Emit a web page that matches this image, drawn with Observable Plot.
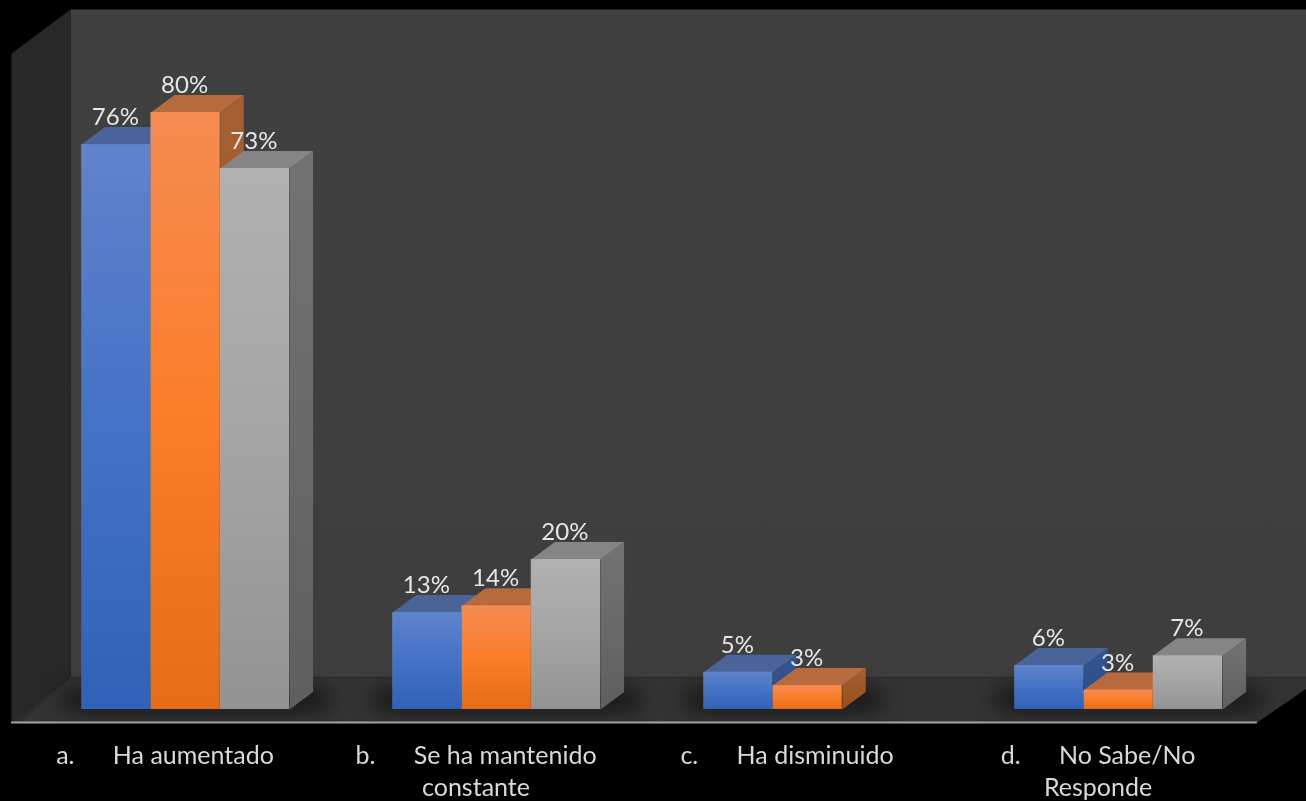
<!DOCTYPE html>
<html lang="es">
<head>
<meta charset="utf-8">
<style>
html,body{margin:0;padding:0;background:#000;overflow:hidden}
svg{display:block;filter:blur(0.55px)}
</style>
<script src="https://cdn.jsdelivr.net/npm/d3@7"></script>
<script src="https://cdn.jsdelivr.net/npm/@observablehq/plot@0.6"></script>
</head>
<body>
<script>
const categories = [
  "a.\u00A0\u00A0\u00A0\u00A0\u00A0\u00A0Ha aumentado",
  "b.\u00A0\u00A0\u00A0\u00A0\u00A0\u00A0Se ha mantenido\nconstante",
  "c.\u00A0\u00A0\u00A0\u00A0\u00A0\u00A0Ha disminuido",
  "d.\u00A0\u00A0\u00A0\u00A0\u00A0\u00A0No Sabe/No\nResponde"
];
const seriesBlue   = [75.7, 13.0, 5.0, 5.9];
const seriesOrange = [80.0, 13.9, 3.2, 2.6];
const seriesGray   = [72.5, 20.1, null, 7.2];

const palette = [
  {front:"url(#fBlue)",   top:"#4a6399", side:"url(#sBlue)"},
  {front:"url(#fOrange)", top:"#b76a3e", side:"url(#sOrange)"},
  {front:"url(#fGray)",   top:"#858585", side:"url(#sGray)"}
];

// geometry in data units: one category = 1 on x, one percentage point = 1 on y
const barW = 0.2228, depthX = 0.0756, depthY = 2.35, nudge = 0.002;
const wallL = -0.368, roomL = -0.558, roomR = 3.448, roomFar = 3.62;
const floorBack = 4.29, floorFront = -1.74, roomTop = 93.8, leftTop = 87.9;

const bars = [seriesBlue, seriesOrange, seriesGray].flatMap((vals, s) =>
  vals.map((v, c) => ({c, s, v, x1: c + nudge + (s - 1.5) * barW, x2: c + nudge + (s - 0.5) * barW}))
).filter(d => d.v != null).sort((a, b) => a.c - b.c || a.s - b.s);

const poly = (pts, fill, extra = {}) =>
  Plot.line(pts, {x: d => d[0], y: d => d[1], fill, stroke: "none", curve: "linear", ...extra});

const backdrop = [
  poly([[wallL, floorBack], [wallL, roomTop], [roomFar, roomTop], [roomFar, floorBack]], "url(#wall)"),
  poly([[roomL, floorFront], [roomL, leftTop], [wallL, roomTop], [wallL, floorBack]], "#282828"),
  poly([[roomL, floorFront], [wallL, floorBack], [roomFar, floorBack], [roomFar, 3.2], [roomR, floorFront]], "#333333"),
  poly([[roomL, floorFront], [wallL, floorBack], [wallL - 0.02, floorBack - 0.8], [roomL + 0.03, floorFront]], "#2c2c2c")
];

const shadows = [0, 1, 2, 3].map(c => {
  const n = c === 2 ? 2 : 3;
  return Plot.rect([c], {
    x1: d => d - 1.5 * barW - 0.06,
    x2: d => d + (n - 1.5) * barW + 0.13,
    y1: 0.1, y2: 2.5, rx: 12,
    fill: "#000", fillOpacity: 0.72, imageFilter: "blur(11px)"
  });
});

const barMarks = bars.flatMap(d => {
  const p = palette[d.s];
  return [
    poly([[d.x2, 0], [d.x2, d.v], [d.x2 + depthX, d.v + depthY], [d.x2 + depthX, depthY]], p.side),
    poly([[d.x1, d.v], [d.x2, d.v], [d.x2 + depthX, d.v + depthY], [d.x1 + depthX, d.v + depthY]], p.top),
    Plot.rect([d], {x1: "x1", x2: "x2", y1: 0, y2: "v", fill: p.front})
  ];
});

const defs = () => {
  const grad = (id, stops) =>
    `<linearGradient id="${id}" x1="0" y1="0" x2="0" y2="1">` +
    stops.map(([o, c]) => `<stop offset="${o}" stop-color="${c}"/>`).join("") +
    `</linearGradient>`;
  const g = document.createElementNS("http://www.w3.org/2000/svg", "g");
  g.innerHTML = "<defs>" +
    grad("wall",    [[0, "#404040"], [1, "#3e3e3e"]]) +
    grad("fBlue",   [[0, "#6083cc"], [0.5, "#4472c6"], [1, "#2f62b8"]]) +
    grad("fOrange", [[0, "#f58c52"], [0.5, "#fb7e2a"], [1, "#e66c18"]]) +
    grad("fGray",   [[0, "#b1b1b1"], [0.5, "#a5a5a5"], [1, "#939393"]]) +
    grad("sBlue",   [[0, "#35558f"], [1, "#2b4c85"]]) +
    grad("sOrange", [[0, "#a55f33"], [1, "#95511c"]]) +
    grad("sGray",   [[0, "#737373"], [1, "#5f5f5f"]]) +
    "</defs>";
  return g;
};

const fontFamily = "Lato, 'Open Sans', sans-serif";

const chart = Plot.plot({
  width: 1306,
  height: 801,
  margin: 0,
  style: {background: "#000", fontFamily},
  x: {domain: [-0.5932, 3.6061], range: [0, 1306], axis: null},
  y: {domain: [-12.33, 95.01], range: [801, 0], axis: null},
  marks: [
    defs,
    ...backdrop,
    ...shadows,
    ...barMarks,
    Plot.ruleY([floorFront], {x1: roomL, x2: roomR, stroke: "#a3a3a3", strokeWidth: 2}),
    Plot.text(bars, {
      x: d => (d.x1 + d.x2) / 2, y: "v",
      text: d => Math.max(Math.round(d.v), 3) + "%",
      dx: -1, dy: -27, fontSize: 24, fill: "#e6e6e6",
      textAnchor: "middle", lineAnchor: "middle"
    }),
    Plot.text(categories, {
      x: (d, i) => i, y: floorFront,
      text: d => d,
      dx: -20, dy: 19, fontSize: 25, lineHeight: 1.28, fill: "#d9d9d9",
      textAnchor: "middle", lineAnchor: "top"
    })
  ]
});
document.body.appendChild(chart);
</script>
</body>
</html>
